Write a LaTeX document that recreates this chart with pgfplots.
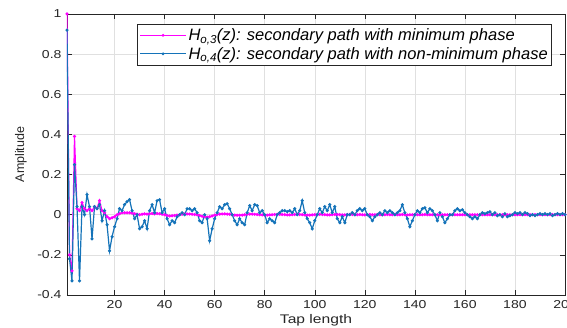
\documentclass[border=0pt]{standalone}
\usepackage{pgfplots}
\pgfplotsset{compat=1.18}
\usepackage{pgfplotstable}
\usepackage{fontspec}
\setmainfont{Liberation Sans}
\definecolor{mmag}{RGB}{255,0,255}
\definecolor{mblue}{RGB}{20,115,185}
\definecolor{axgray}{RGB}{38,38,38}
\pgfplotstableread{
n v
1 1.0
2 -0.20
3 -0.28
4 0.39
5 0.03
6 0.02
7 0.06
8 0.03
9 0.02
10 0.03
11 0.02
12 0.04
13 0.03
14 0.07
15 0.02
16 0.01
17 -0.01
18 -0.02
19 -0.015
20 -0.01
21 0.0
22 0.005
23 0.01
24 0.01
25 0.01
26 0.01
27 0.008
28 0.005
29 0.003
30 0.0
31 0.002
32 0.004
33 0.003
34 0.005
35 0.006
36 0.004
37 0.006
38 0.005
39 0.002
40 0.0
41 -0.004
42 -0.006
43 -0.005
44 -0.004
45 -0.002
46 0.0
47 0.002
48 0.003
49 0.004
50 0.003
51 0.002
52 0.001
53 0.0
54 -0.004
55 -0.008
56 -0.01
57 -0.012
58 -0.01
59 -0.006
60 -0.002
61 0.001
62 0.003
63 0.004
64 0.004
65 0.003
66 0.002
67 0.0
68 -0.002
69 -0.003
70 -0.003
71 -0.002
72 0.0
73 0.002
74 0.003
75 0.003
76 0.002
77 0.001
78 0.0
79 -0.001
80 -0.002
81 -0.002
82 -0.001
83 0.0
84 0.001
85 0.002
86 0.002
87 0.001
88 0.0
89 -0.001
90 -0.001
91 0.0
92 0.001
93 0.002
94 0.001
95 0.0
96 -0.001
97 -0.002
98 -0.002
99 -0.001
100 0.0
101 0.001
102 0.002
103 0.001
104 0.0
105 -0.001
106 -0.001
107 0.0
108 0.001
109 0.001
110 0.0
111 -0.001
112 -0.001
113 0.0
114 0.001
115 0.001
116 0.0
117 0.0
118 0.001
119 0.0
120 -0.001
121 0.0
122 0.001
123 0.0
124 0.0
125 0.001
126 0.0
127 -0.001
128 0.0
129 0.001
130 0.0
131 0.0
132 0.001
133 0.0
134 0.0
135 0.001
136 0.0
137 -0.001
138 0.0
139 0.0
140 0.001
141 0.0
142 0.0
143 0.0
144 0.001
145 0.0
146 0.0
147 0.0
148 0.0
149 0.0
150 0.0
151 0.0
152 0.0
153 0.0
154 0.0
155 0.0
156 0.0
157 0.0
158 0.0
159 0.0
160 0.0
161 0.0
162 0.0
163 0.0
164 0.0
165 0.0
166 0.0
167 0.0
168 0.0
169 0.0
170 0.0
171 0.0
172 0.0
173 0.0
174 0.0
175 0.0
176 0.0
177 0.0
178 0.0
179 0.0
180 0.0
181 0.0
182 0.0
183 0.0
184 0.0
185 0.0
186 0.0
187 0.0
188 0.0
189 0.0
190 0.0
191 0.0
192 0.0
193 0.0
194 0.0
195 0.0
196 0.0
197 0.0
198 0.0
199 0.0
200 0.0
}\minphase
\pgfplotstableread{
n v
1 0.92
2 -0.22
3 -0.33
4 0.25
5 0.04
6 -0.33
7 0.04
8 0.00
9 0.10
10 0.04
11 -0.12
12 0.04
13 0.03
14 0.05
15 -0.03
16 0.02
17 -0.05
18 -0.18
19 -0.11
20 -0.06
21 -0.02
22 0.03
23 0.02
24 0.05
25 0.065
26 0.075
27 0.02
28 -0.02
29 0.00
30 -0.07
31 -0.06
32 -0.03
33 -0.07
34 0.02
35 0.05
36 0.01
37 0.07
38 0.075
39 0.01
40 0.03
41 -0.02
42 -0.05
43 -0.03
44 -0.04
45 -0.01
46 0.00
47 0.01
48 0.00
49 0.03
50 0.03
51 0.02
52 0.03
53 0.01
54 -0.03
55 -0.04
56 0.00
57 -0.02
58 -0.13
59 -0.07
60 -0.02
61 0.01
62 0.04
63 0.03
64 0.05
65 0.055
66 0.03
67 0.00
68 -0.03
69 -0.05
70 -0.02
71 -0.04
72 -0.05
73 0.01
74 0.045
75 0.02
76 0.05
77 0.045
78 0.01
79 0.02
80 0.00
81 -0.04
82 -0.02
83 -0.03
84 -0.04
85 0.00
86 0.01
87 0.02
88 0.02
89 0.015
90 0.02
91 0.01
92 0.03
93 0.00
94 0.02
95 0.07
96 0.01
97 -0.02
98 -0.04
99 -0.07
100 -0.03
101 0.00
102 0.03
103 0.01
104 0.04
105 0.02
106 0.05
107 0.01
108 0.04
109 -0.02
110 -0.04
111 -0.01
112 -0.04
113 0.00
114 0.00
115 0.01
116 0.00
117 0.02
118 0.03
119 0.02
120 0.03
121 0.00
122 -0.01
123 -0.03
124 -0.01
125 0.00
126 0.01
127 0.00
128 0.02
129 0.01
130 0.02
131 0.01
132 0.00
133 0.01
134 0.02
135 0.05
136 0.01
137 -0.02
138 -0.06
139 -0.03
140 0.00
141 0.02
142 0.01
143 0.03
144 0.035
145 0.01
146 0.03
147 0.02
148 0.00
149 -0.03
150 0.01
151 -0.01
152 -0.04
153 -0.02
154 0.00
155 0.00
156 0.02
157 0.03
158 0.02
159 0.025
160 0.01
161 0.00
162 -0.01
163 -0.02
164 -0.01
165 -0.02
166 0.00
167 0.01
168 0.005
169 0.01
170 0.015
171 0.00
172 0.01
173 -0.005
174 0.00
175 -0.01
176 0.005
177 -0.01
178 -0.005
179 0.00
180 0.01
181 0.005
182 0.01
183 0.00
184 0.01
185 0.005
186 -0.005
187 0.00
188 -0.005
189 0.00
190 0.005
191 0.00
192 0.005
193 0.00
194 0.005
195 -0.005
196 0.00
197 0.005
198 0.00
199 0.005
200 0.00
}\nonminphase
\begin{document}
\begin{tikzpicture}
\begin{axis}[
  scale only axis,
  width=498pt, height=281pt,
  xmin=1, xmax=200, ymin=-0.4, ymax=1,
  xtick={20,40,...,200},
  ytick={-0.4,-0.2,0,0.2,0.4,0.6,0.8,1},
  yticklabels={-0.4,-0.2,0,0.2,0.4,0.6,0.8,1},
  xmajorgrids, ymajorgrids,
  grid style={color=black!12, line width=0.5pt},
  axis line style={color=axgray, line width=0.6pt},
  tick style={color=axgray, line width=0.5pt},
  major tick length=5pt,
  tick align=inside,
  xtick pos=both, ytick pos=both,
  tick label style={font=\fontsize{11.5}{13}\selectfont, color=axgray, xscale=1.22},
  /pgf/number format/assume math mode=true,
  xticklabel style={yshift=-2pt},
  yticklabel style={xshift=-1pt},
  xlabel={Tap length},
  ylabel={Amplitude},
  label style={font=\fontsize{12.5}{14}\selectfont, color=axgray},
  xlabel style={yshift=1pt, xscale=1.25},
  ylabel style={yshift=3pt},
  legend style={at={(0.974,0.965)}, anchor=north east,
    font=\fontsize{16.5}{18}\selectfont\itshape,
    draw=axgray, line width=0.6pt, inner xsep=2pt, inner ysep=2.5pt,
    row sep=1pt, cells={anchor=west}},
  legend cell align=left,
  legend image code/.code={%
    \draw[mark repeat=2, mark phase=2, line width=0.9pt]
      plot coordinates {(0pt,0pt) (23pt,0pt) (46pt,0pt)};},
]
\addplot[color=mmag, line width=1.2pt, mark=*, mark size=0.9pt] table[x=n, y=v] {\minphase};
\addlegendentry{H\textsubscript{o,3}(z): secondary path with minimum phase}
\addplot[color=mblue, line width=1.2pt, mark=*, mark size=0.9pt] table[x=n, y=v] {\nonminphase};
\addlegendentry{H\textsubscript{o,4}(z): secondary path with non-minimum phase}
\end{axis}
\pgfresetboundingbox
\path ([xshift=-67pt,yshift=-33pt]current axis.south west) rectangle ([xshift=2pt,yshift=14pt]current axis.north east);
\end{tikzpicture}
\end{document}
